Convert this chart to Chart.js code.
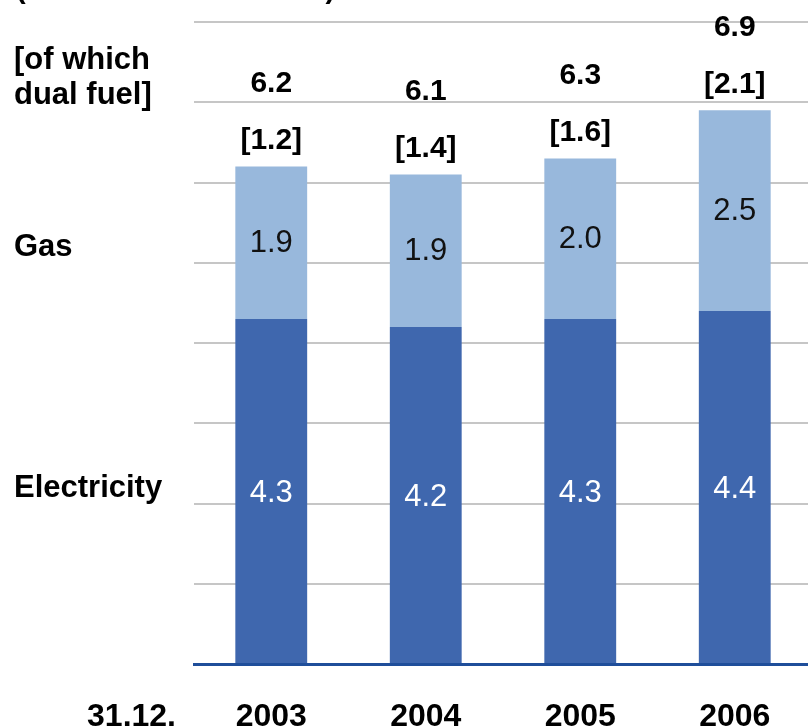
<!DOCTYPE html>
<html>
<head>
<meta charset="utf-8">
<title>Customers by energy type</title>
<script src="https://cdn.jsdelivr.net/npm/chart.js@4.4.1/dist/chart.umd.min.js"></script>
<style>
  html, body { margin: 0; padding: 0; background: #ffffff; overflow: hidden; }
  #wrap { width: 808px; height: 728px; overflow: hidden; }
  #chart { display: block; }
</style>
</head>
<body>
<div id="wrap"><canvas id="chart" width="812" height="728"></canvas></div>
<script>
// Year-end figures, million customers
const years = ['2003', '2004', '2005', '2006'];
const electricity = [4.3, 4.2, 4.3, 4.4];
const gas = [1.9, 1.9, 2.0, 2.5];
const totals = [6.2, 6.1, 6.3, 6.9];
const dualFuel = [1.2, 1.4, 1.6, 2.1];
const yTicks = [0, 1, 2, 3, 4, 5, 6, 7, 8];

const FONT = '"Liberation Sans", Arial, Helvetica, sans-serif';
const DARK_BLUE = '#3F67AE';
const LIGHT_BLUE = '#98B8DC';

// Labels inside the segments, totals with dual-fuel share above, row captions on the left
const annotations = {
  id: 'annotations',
  afterDatasetsDraw(chart) {
    const { ctx } = chart;
    const x = chart.scales.x;
    const y = chart.scales.y;
    ctx.save();
    ctx.textAlign = 'center';
    ctx.textBaseline = 'middle';

    // segment values
    ctx.font = '31px ' + FONT;
    years.forEach((_, i) => {
      const cx = x.getPixelForValue(i);
      ctx.fillStyle = '#ffffff';
      ctx.fillText(electricity[i].toFixed(1), cx, (y.getPixelForValue(0) + y.getPixelForValue(electricity[i])) / 2 + 2);
      ctx.fillStyle = '#111111';
      ctx.fillText(gas[i].toFixed(1), cx, (y.getPixelForValue(electricity[i]) + y.getPixelForValue(electricity[i] + gas[i])) / 2 + 1);
    });

    // totals and dual fuel
    ctx.font = 'bold 30px ' + FONT;
    ctx.fillStyle = '#000000';
    years.forEach((_, i) => {
      const cx = x.getPixelForValue(i);
      const top = y.getPixelForValue(totals[i]);
      ctx.fillText(totals[i].toFixed(1), cx, top - 83);
      ctx.fillText('[' + dualFuel[i].toFixed(1) + ']', cx, top - 26);
    });

    // row captions
    ctx.textAlign = 'left';
    ctx.font = 'bold 31px ' + FONT;
    ctx.fillText('[of which', 14, 60);
    ctx.fillText('dual fuel]', 14, 95);
    ctx.fillText('Gas', 14, 247);
    ctx.fillText('Electricity', 14, 488);

    ctx.textAlign = 'right';
    ctx.font = 'bold 32px ' + FONT;
    ctx.fillText('31.12.', 176, 717);

    // unit line at the very top
    ctx.textAlign = 'left';
    ctx.textBaseline = 'alphabetic';
    ctx.font = 'bold 29px ' + FONT;
    ctx.fillText('(millions of customers)', 16, -2);
    ctx.restore();
  }
};

new Chart(document.getElementById('chart'), {
  type: 'bar',
  data: {
    labels: years,
    datasets: [
      { label: 'Electricity', data: electricity, backgroundColor: DARK_BLUE },
      { label: 'Gas', data: gas, backgroundColor: LIGHT_BLUE }
    ]
  },
  options: {
    responsive: false,
    animation: false,
    events: [],
    layout: { padding: { left: 194, right: 0, top: 22, bottom: 0 } },
    datasets: { bar: { categoryPercentage: 1, barPercentage: 0.465 } },
    plugins: { legend: { display: false }, tooltip: { enabled: false } },
    scales: {
      x: {
        stacked: true,
        grid: { display: false, drawTicks: false },
        border: { display: true, color: '#1F4E9A', width: 3 },
        ticks: { color: '#000000', font: { family: FONT, size: 32, weight: 'bold' }, padding: 34, maxRotation: 0 },
        afterFit(axis) { axis.height = 64; }
      },
      y: {
        stacked: true,
        min: 0,
        max: 8,
        afterBuildTicks(axis) { axis.ticks = yTicks.map(v => ({ value: v })); },
        grid: { color: '#C6C6C6', lineWidth: 2, drawTicks: false },
        border: { display: false },
        ticks: { display: false },
        afterFit(axis) { axis.width = 0; }
      }
    }
  },
  plugins: [annotations]
});
</script>
</body>
</html>
